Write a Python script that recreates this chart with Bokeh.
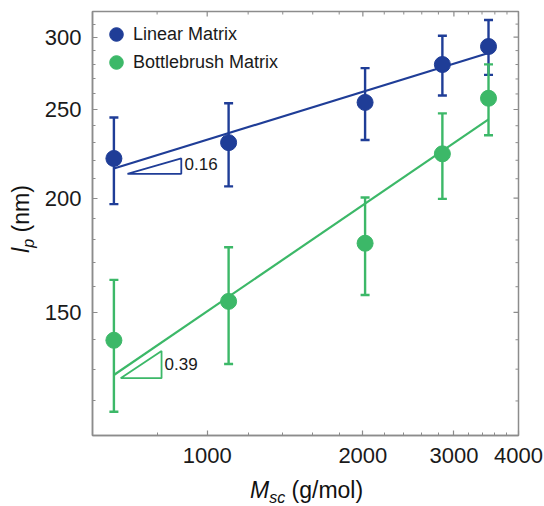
import math
from bokeh.plotting import figure
from bokeh.layouts import row, column
from bokeh.models import (ColumnDataSource, Whisker, TeeHead, FixedTicker, Div,
                          Legend, LegendItem, Range1d, BasicTickFormatter)
from bokeh.embed import file_html
from bokeh.resources import INLINE
from bokeh.core.properties import value

# ---------------- data ----------------
msc = [660, 1100, 2020, 2850, 3500]
lp_linear = [221.0, 230.0, 254.5, 280.0, 293.0]
err_linear = [24.0, 24.0, 23.0, 21.0, 20.2]
lp_brush = [139.8, 154.2, 178.5, 223.6, 257.2]
err_brush = [23.0, 22.5, 21.8, 24.0, 22.9]

fit_x = [660, 3500]
fit_linear = [215.5, 288.2]
fit_brush = [128.1, 243.9]

tri_linear_x = [701, 891, 891, 701]
tri_linear_y = [212.6, 212.6, 221.0, 212.6]
tri_brush_x = [680, 816, 816, 680]
tri_brush_y = [127.1, 127.1, 136.1, 127.1]
slope_labels = ["0.16", "0.39"]
slope_x = [904, 827]
slope_y = [217.9, 131.8]

x_lim = [600, 4000]
y_lim = [110, 320]
x_ticks = [1000, 2000, 3000, 4000]
x_minor = [800, 1200, 1400, 1600, 1800, 2200, 2400, 2600, 2800, 3200, 3400, 3600, 3800]
y_ticks = [150, 200, 250, 300]
y_minor = [120, 130, 140, 160, 170, 180, 190, 210, 220, 230, 240, 260, 270, 280, 290, 310]

series_names = ["Linear Matrix", "Bottlebrush Matrix"]

# ---------------- styling ----------------
BLUE = "#1f3d97"
GREEN = "#3cb868"
FRAME = "#8c8c8c"
FONT = "Liberation Sans"
TXT = "#1a1a1a"

p = figure(width=504, height=474, x_axis_type="log", y_axis_type="log",
           x_range=Range1d(*x_lim), y_range=Range1d(*y_lim),
           output_backend="svg", toolbar_location=None,
           min_border_left=52, min_border_right=26, min_border_top=11, min_border_bottom=39)
p.grid.visible = False
p.outline_line_color = FRAME
p.outline_line_width = 1.5
p.background_fill_color = "white"
p.border_fill_color = "white"

def style_axis(ax, ticks, minor):
    ax.ticker = FixedTicker(ticks=ticks, minor_ticks=minor)
    ax.axis_line_color = FRAME
    ax.axis_line_width = 1.5
    ax.major_tick_line_color = FRAME
    ax.minor_tick_line_color = FRAME
    ax.major_tick_line_width = 1.2
    ax.minor_tick_line_width = 1.0
    ax.major_tick_in = 5
    ax.major_tick_out = 0
    ax.minor_tick_in = 3
    ax.minor_tick_out = 0
    ax.formatter = BasicTickFormatter(use_scientific=False)
    ax.axis_label = None
    ax.major_label_text_font = FONT
    ax.major_label_text_font_size = "22px"
    ax.major_label_text_color = TXT

style_axis(p.xaxis[0], x_ticks, x_minor)
p.xaxis[0].major_label_standoff = 12
style_axis(p.yaxis[0], y_ticks, y_minor)
p.yaxis[0].major_label_standoff = 11

# mirrored inward ticks on the top and right edges of the frame
p.ray(x=x_ticks, y=[y_lim[1]] * len(x_ticks), length=5, length_units="screen",
      angle=-math.pi / 2, line_color=FRAME, line_width=1.2)
p.ray(x=x_minor, y=[y_lim[1]] * len(x_minor), length=3, length_units="screen",
      angle=-math.pi / 2, line_color=FRAME, line_width=1.0)
p.ray(x=[x_lim[1]] * len(y_ticks), y=y_ticks, length=5, length_units="screen",
      angle=math.pi, line_color=FRAME, line_width=1.2)
p.ray(x=[x_lim[1]] * len(y_minor), y=y_minor, length=3, length_units="screen",
      angle=math.pi, line_color=FRAME, line_width=1.0)

# ---------------- fit lines and slope triangles ----------------
p.line(fit_x, fit_linear, line_color=BLUE, line_width=2.2)
p.line(fit_x, fit_brush, line_color=GREEN, line_width=2.2)
p.line(tri_linear_x, tri_linear_y, line_color=BLUE, line_width=1.8)
p.line(tri_brush_x, tri_brush_y, line_color=GREEN, line_width=1.8)

slope_src = ColumnDataSource(dict(x=slope_x, y=slope_y, t=slope_labels))
p.text(x="x", y="y", text="t", source=slope_src, text_font=value(FONT),
       text_font_size="17px", text_baseline="middle", text_align="left",
       text_color=TXT)

# ---------------- error bars and points ----------------
renderers = []
for lp, err, col in [(lp_linear, err_linear, BLUE), (lp_brush, err_brush, GREEN)]:
    src = ColumnDataSource(dict(
        x=msc, y=lp,
        upper=[v + e for v, e in zip(lp, err)],
        lower=[v - e for v, e in zip(lp, err)]))
    w = Whisker(source=src, base="x", upper="upper", lower="lower", dimension="height",
                line_color=col, line_width=2.4,
                upper_head=TeeHead(size=9, line_color=col, line_width=2.4),
                lower_head=TeeHead(size=9, line_color=col, line_width=2.4))
    p.add_layout(w)
    r = p.scatter(x="x", y="y", source=src, size=16, fill_color=col, line_color=col)
    renderers.append(r)

# one legend per entry so the rows sit as close as in the reference
for name, r, loc in [(series_names[0], renderers[0], (7, 384)),
                     (series_names[1], renderers[1], (7, 356))]:
    lg = Legend(items=[LegendItem(label=name, renderers=[r])],
                location=loc, border_line_color=None, background_fill_alpha=0,
                label_text_font=FONT, label_text_font_size="18px", label_text_color=TXT,
                glyph_width=34, glyph_height=34, label_standoff=0,
                padding=0, margin=0, label_height=20, spacing=0)
    p.add_layout(lg)

# ---------------- axis titles as HTML (italic + subscript) ----------------
ylab = Div(width=40, height=474, margin=0, text=(
    '<div style="position:relative;width:40px;height:474px;">'
    '<div style="position:absolute;left:-79px;top:206px;width:200px;height:26px;'
    'line-height:26px;text-align:center;transform:rotate(-90deg);white-space:nowrap;'
    "font-family:'Liberation Sans';font-size:23px;color:#111111;\">"
    '<i>l</i><span style="font-size:16px;font-style:italic;position:relative;top:5px;">p</span>'
    ' (nm)</div></div>'))

xlab = Div(width=544, height=32, margin=0, text=(
    '<div style="padding-left:250px;height:32px;line-height:32px;white-space:nowrap;'
    "font-family:'Liberation Sans';font-size:23px;color:#111111;\">"
    '<i>M</i><span style="font-size:16px;font-style:italic;position:relative;top:5px;">sc</span>'
    ' (g/mol)</div>'))

layout = column(row(ylab, p, spacing=0), xlab, spacing=0)

open("out.html", "w").write(file_html(layout, INLINE))
